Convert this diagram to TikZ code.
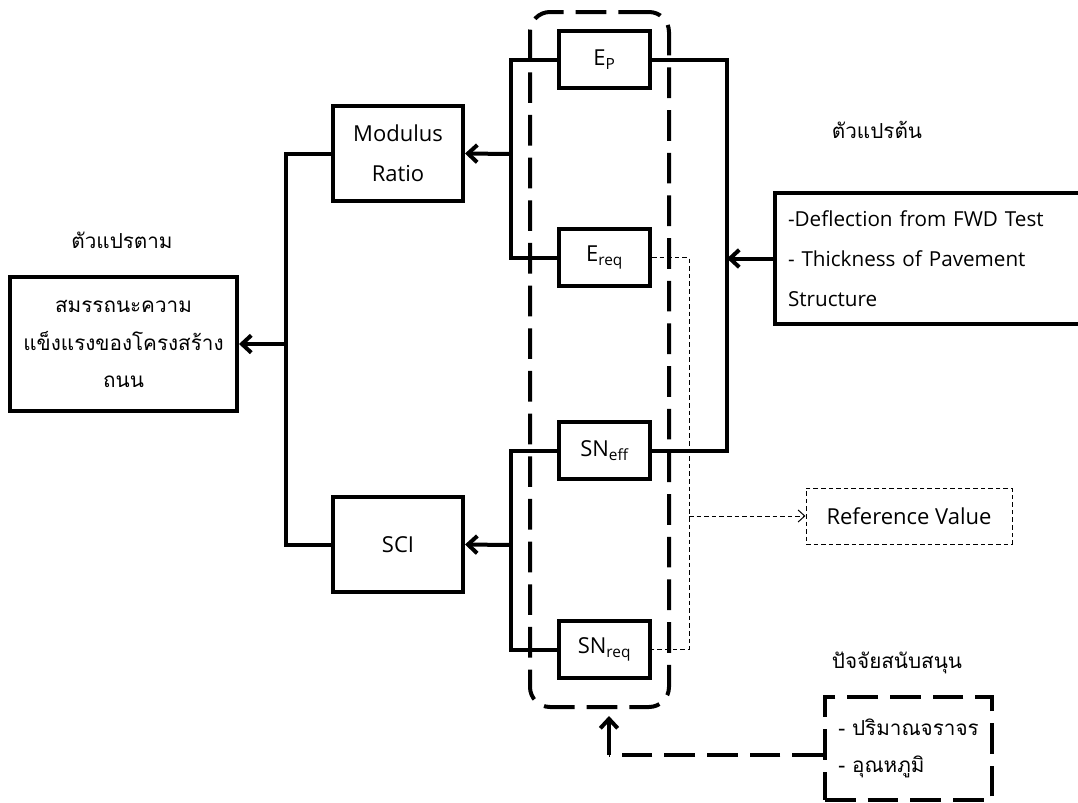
\documentclass[tikz,border=0pt]{standalone}
\usepackage{fontspec}
\setmainfont{Open Sans}
\newfontfamily\thai[Script=Thai]{Loma}
\usetikzlibrary{arrows.meta}
\begin{document}
\begin{tikzpicture}[x=0.75pt,y=-0.75pt,
  every node/.style={font=\fontsize{16.5}{30}\selectfont},
  thaifont/.style={font=\thai\fontsize{15.5}{28}\selectfont},
  box/.style={draw,line width=3pt,inner sep=0pt,align=center},
  cbox/.style={box,fill=white,minimum width=91*0.75pt,minimum height=57*0.75pt},
  conn/.style={line width=3pt},
  arr/.style={line width=3pt,-{Straight Barb[length=7pt,width=13pt]}},
  dotln/.style={line width=0.75pt,dash pattern=on 3.5pt off 2.2pt},
  dotarr/.style={line width=0.75pt,dash pattern=on 3.5pt off 2.2pt,-{Straight Barb[length=5pt,width=9pt]}},
  bigdash/.style={line width=3pt,dash pattern=on 23pt off 9pt},
  lbl/.style={thaifont}]
\useasboundingbox (0,0) rectangle (1078,803);

% container
\node[draw,bigdash,rounded corners=15pt,inner sep=0pt,minimum width=139*0.75pt,minimum height=695*0.75pt] (Cont) at (599.5,359.5) {};

% centre boxes
\node[cbox] (EP) at (604.5,59.5) {E\textsubscript{P}};
\node[cbox] (Ereq) at (604.5,257.5) {E\textsubscript{req}};
\node[cbox] (SNeff) at (604.5,450.5) {SN\textsubscript{eff}};
\node[cbox] (SNreq) at (604.5,649.5) {SN\textsubscript{req}};

% middle boxes
\node[box,minimum width=130*0.75pt,minimum height=95*0.75pt] (MR) at (398,153.5) {Modulus\\Ratio};
\node[box,minimum width=130*0.75pt,minimum height=95*0.75pt] (SCI) at (398,544.5) {SCI};

% left box
\node[box,thaifont,minimum width=227*0.75pt,minimum height=134*0.75pt] (Left) at (123.5,344) {สมรรถนะความ\\แข็งแรงของโครงสร้าง\\ถนน};
\node[lbl] (LblL) at (122,240) {ตัวแปรตาม};

% right box
\node[box,align=left,font=\fontsize{15.5}{30}\selectfont,text width=300*0.75pt,minimum width=326*0.75pt,minimum height=131*0.75pt] (Right) at (938,258.5) {-Deflection from FWD Test\\- Thickness of Pavement\\Structure};
\node[lbl] (LblR) at (877,130) {ตัวแปรต้น};

% reference value
\node[draw,dotln,inner sep=0pt,minimum width=206*0.75pt,minimum height=56*0.75pt] (Ref) at (909,516) {Reference Value};

% bottom right box
\node[draw,bigdash,inner sep=0pt,align=left,thaifont,minimum width=167*0.75pt,minimum height=103*0.75pt] (BR) at (908.5,748.5) {- ปริมาณจราจร\\- อุณหภูมิ};
\node[lbl] (LblB) at (897,663) {ปัจจัยสนับสนุน};

% junctions
\coordinate (jL1) at (511,154);
\coordinate (jL2) at (511,545);
\coordinate (jL0) at (286,344);
\coordinate (jR) at (727,258.5);
\coordinate (jD) at (689,516);
\coordinate (jB) at (609,755);
\coordinate (jT) at (609,716);

% connectors
\draw[conn] (EP.west) -| (jL1) |- (Ereq.west);
\draw[arr] (jL1) -- (MR.east);
\draw[conn] (SNeff.west) -| (jL2) |- (SNreq.west);
\draw[arr] (jL2) -- (SCI.east);
\draw[conn] (MR.west) -| (jL0) |- (SCI.west);
\draw[arr] (jL0) -- (Left.east);
\draw[conn] (EP.east) -| (jR) |- (SNeff.east);
\draw[arr] (Right.west) -- (jR);
\draw[dotln] (Ereq.east) -| (jD) |- (SNreq.east);
\draw[dotarr] (jD) -- (Ref.west);
\draw[bigdash] (BR.west |- jB) -- (jB);
\draw[arr] (jB) -- (jT);
\end{tikzpicture}
\end{document}
